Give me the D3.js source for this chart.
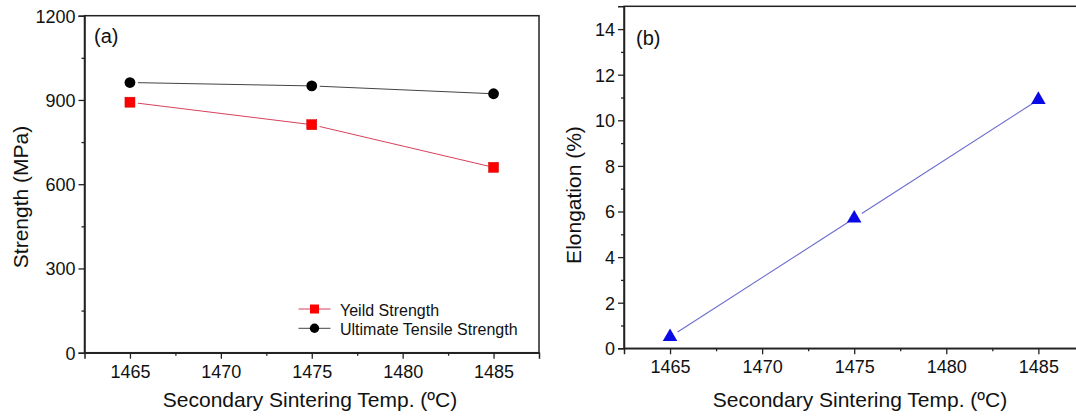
<!DOCTYPE html>
<html>
<head>
<meta charset="utf-8">
<script src="https://cdn.jsdelivr.net/npm/d3@7"></script>
<style>
  html, body { margin: 0; padding: 0; background: #fff; }
  svg { display: block; font-family: "Liberation Sans", Arial, sans-serif; }
</style>
</head>
<body>
<svg id="chart" width="1076" height="416"></svg>
<script>
// ---- data ----
const temps = [1465, 1475, 1485];
const yieldStrength = [892, 812, 660];
const tensileStrength = [962, 950, 922];
const elongation = [0.5, 5.7, 10.9];

const xTicks = [1465, 1470, 1475, 1480, 1485];
const xMinorTicks = [1467.5, 1472.5, 1477.5, 1482.5, 1487.5];
const strengthTicks = [0, 300, 600, 900, 1200];
const strengthMinorTicks = [150, 450, 750, 1050];
const elongTicks = [0, 2, 4, 6, 8, 10, 12, 14];
const elongMinorTicks = [1, 3, 5, 7, 9, 11, 13, 15];

const xLabel = "Secondary Sintering Temp. (ºC)";
const legendNames = ["Yeild Strength", "Ultimate Tensile Strength"];

const svg = d3.select("#chart");

// ---- scales ----
const xA = d3.scaleLinear().domain([1462.5, 1487.5]).range([84.5, 539]);
const yA = d3.scaleLinear().domain([0, 1200]).range([352.7, 15.7]);
const xB = d3.scaleLinear().domain([1462.5, 1487.5]).range([624, 1084.4]);
const yB = d3.scaleLinear().domain([0, 15]).range([348.3, 6.3]);

function drawFrame(x, y, ticksX, minorX, ticksY, minorY, yTitle, yTitlePos, panelLabel, labelPos, xTitleX) {
  const [x0, x1] = x.range();
  const [y0, y1] = y.range();
  const g = svg.append("g");
  g.append("rect").attr("x", x0).attr("y", y1).attr("width", x1 - x0).attr("height", y0 - y1)
    .attr("fill", "none").attr("stroke", "#222").attr("stroke-width", 1.5);

  const gx = g.append("g").attr("transform", `translate(0,${y0})`)
    .call(d3.axisBottom(x).tickValues(ticksX).tickSize(6).tickFormat(d3.format("d")));
  gx.select(".domain").attr("stroke", "#222").attr("stroke-width", 1.5);
  gx.selectAll(".tick line").attr("stroke", "#222").attr("stroke-width", 1.3);
  gx.selectAll(".tick text").attr("dy", null).attr("y", 25)
    .attr("font-size", 18).attr("fill", "#111").attr("font-family", "Liberation Sans, Arial, sans-serif");
  const gxm = g.append("g").attr("transform", `translate(0,${y0})`)
    .call(d3.axisBottom(x).tickValues(minorX.filter(v => x(v) < x1 - 1)).tickSize(3).tickFormat(""));
  gxm.select(".domain").remove();
  gxm.selectAll(".tick line").attr("stroke", "#222").attr("stroke-width", 1.3);

  const gy = g.append("g").attr("transform", `translate(${x0},0)`)
    .call(d3.axisLeft(y).tickValues(ticksY).tickSize(6).tickFormat(d3.format("d")));
  gy.select(".domain").attr("stroke", "#222").attr("stroke-width", 1.5);
  gy.selectAll(".tick line").attr("stroke", "#222").attr("stroke-width", 1.3);
  gy.selectAll(".tick text").attr("x", -9).attr("dy", "0.36em")
    .attr("font-size", 18).attr("fill", "#111").attr("font-family", "Liberation Sans, Arial, sans-serif");
  const gym = g.append("g").attr("transform", `translate(${x0},0)`)
    .call(d3.axisLeft(y).tickValues(minorY.filter(v => y(v) > y1 + 1)).tickSize(3).tickFormat(""));
  gym.select(".domain").remove();
  gym.selectAll(".tick line").attr("stroke", "#222").attr("stroke-width", 1.3);

  g.append("text").attr("x", xTitleX).attr("y", 406.5).attr("text-anchor", "middle")
    .attr("font-size", 21).attr("fill", "#111").text(xLabel);
  g.append("text").attr("transform", `translate(${yTitlePos[0]},${yTitlePos[1]}) rotate(-90)`)
    .attr("text-anchor", "middle").attr("font-size", 21).attr("fill", "#111").text(yTitle);
  g.append("text").attr("x", labelPos[0]).attr("y", labelPos[1])
    .attr("font-size", 20).attr("fill", "#111").text(panelLabel);
  return g;
}

function drawGappedLine(g, pts, color, width, gapStart, gapEnd) {
  for (let i = 0; i < pts.length - 1; i++) {
    const [ax, ay] = pts[i], [bx, by] = pts[i + 1];
    const dx = bx - ax, dy = by - ay, L = Math.hypot(dx, dy);
    const ux = dx / L, uy = dy / L;
    g.append("line")
      .attr("x1", ax + ux * gapStart).attr("y1", ay + uy * gapStart)
      .attr("x2", bx - ux * gapEnd).attr("y2", by - uy * gapEnd)
      .attr("stroke", color).attr("stroke-width", width);
  }
}

// ---- panel (a) ----
const gA = drawFrame(xA, yA, xTicks, xMinorTicks, strengthTicks, strengthMinorTicks,
  "Strength (MPa)", [28, 197], "(a)", [94, 43], 310);

const ptsUTS = temps.map((t, i) => [xA(t), yA(tensileStrength[i])]);
const ptsYS = temps.map((t, i) => [xA(t), yA(yieldStrength[i])]);
drawGappedLine(gA, ptsUTS, "#444", 1, 8, 5);
drawGappedLine(gA, ptsYS, "#d8405c", 1, 8, 5);

gA.selectAll(".uts").data(temps).enter().append("circle")
  .attr("cx", d => xA(d)).attr("cy", (d, i) => yA(tensileStrength[i]))
  .attr("r", 5.4).attr("fill", "#000");
gA.selectAll(".ys").data(temps).enter().append("rect")
  .attr("x", d => xA(d) - 5).attr("y", (d, i) => yA(yieldStrength[i]) - 5)
  .attr("width", 10).attr("height", 10).attr("fill", "#ff0000").attr("stroke", "#cc0000").attr("stroke-width", 0.5);

// legend
const legY = [309, 328.3];
const legColors = ["#d8405c", "#444"];
legY.forEach((ly, i) => {
  gA.append("line").attr("x1", 298.5).attr("x2", 330.5).attr("y1", ly).attr("y2", ly)
    .attr("stroke", legColors[i]).attr("stroke-width", 1);
  if (i === 0) {
    gA.append("rect").attr("x", 314.5 - 4.5).attr("y", ly - 4.5).attr("width", 9).attr("height", 9)
      .attr("fill", "#ff0000");
  } else {
    gA.append("circle").attr("cx", 314.5).attr("cy", ly).attr("r", 4.7).attr("fill", "#000");
  }
  gA.append("text").attr("x", 340).attr("y", ly + 6.5).attr("font-size", 16).attr("fill", "#111")
    .text(legendNames[i]);
});

// ---- panel (b) ----
const gB = drawFrame(xB, yB, xTicks, xMinorTicks, elongTicks, elongMinorTicks,
  "Elongation (%)", [581, 195], "(b)", [636, 45], 860);

const ptsEl = temps.map((t, i) => [xB(t), yB(elongation[i])]);
drawGappedLine(gB, ptsEl, "#6b6bd0", 1.1, 9, 5);
const tri = d3.symbol().type(d3.symbolTriangle).size(92);
gB.selectAll(".el").data(temps).enter().append("path")
  .attr("d", tri)
  .attr("transform", (d, i) => `translate(${xB(d)},${yB(elongation[i])})`)
  .attr("fill", "#0a0ae6");
</script>
</body>
</html>
